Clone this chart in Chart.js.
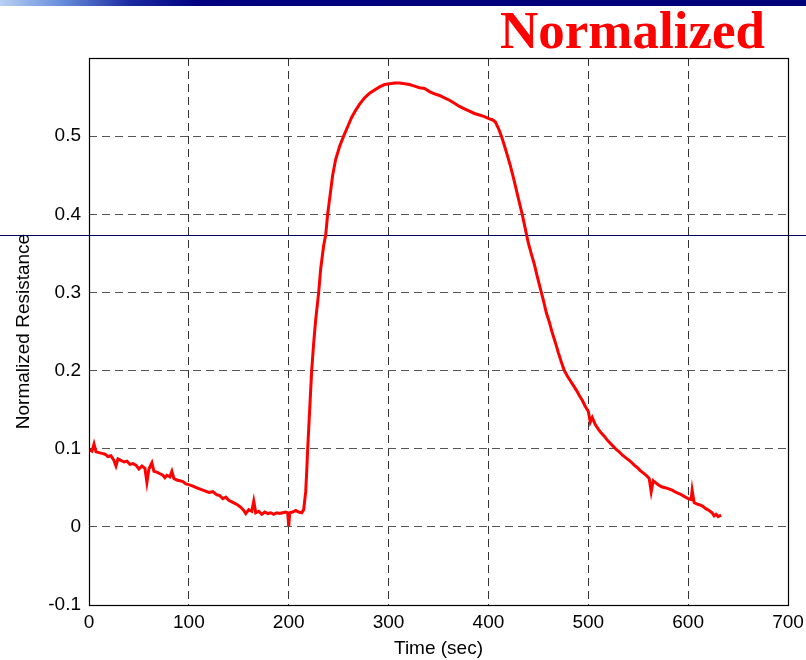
<!DOCTYPE html>
<html>
<head>
<meta charset="utf-8">
<script src="https://cdn.jsdelivr.net/npm/chart.js@4.4.1/dist/chart.umd.min.js"></script>
<style>
  html, body { margin: 0; padding: 0; background: #fff; }
  #wrap { position: relative; width: 806px; height: 660px; overflow: hidden; }
  #bar { position: absolute; left: 0; top: 0; width: 806px; height: 6px;
         background: linear-gradient(to right, #b8d0f4 0px, #6a90dc 60px, #1a2aa0 130px, #000080 200px, #000078 806px); }
  #ttl { position: absolute; left: 500px; top: 0px; font-family: "Liberation Serif", "Times New Roman", serif;
         font-weight: bold; font-size: 53px; line-height: 60px; color: #ff0000; white-space: nowrap; }
  canvas { position: absolute; left: 0; top: 0; }
</style>
</head>
<body>
<div id="wrap">
  <canvas id="c" width="806" height="660"></canvas>
  <div id="bar"></div>
  <div id="ttl">Normalized</div>
</div>
<script>
// ---- data ----
const timeSec = [
  0,3,5,7,10,13,16,19,22,25,27,29,32,35,38,41,44,47,50,53,56,58,60,63,65,68,71,74,76,78,81,83,85,88,91,94,97,100,
  104,108,112,116,120,124,128,131,134,137,140,143,146,149,152,155,157,160,163,165,167,170,173,176,179,182,185,188,
  191,194,197,199,200,201,204,207,210,213,215,
  217,218,219,221,223,225,227,230,232,235,237,239,241,244,247,251,255,259,263,267,271,276,281,286,291,296,301,306,311,
  316,321,326,331,336,341,346,351,356,361,366,371,376,381,386,391,396,401,404,407,410,413,416,419,422,425,428,431,
  434,437,440,443,446,449,452,455,458,461,464,467,470,473,476,479,482,485,488,491,494,497,500,502,504,507,510,513,
  516,519,522,525,528,531,534,537,540,543,546,549,552,555,558,561,563,565,568,571,574,577,580,584,588,592,596,600,
  603,604,606,609,612,615,618,621,624,626,628,630,633
];
const normResistance = [
  0.099,0.097,0.106,0.096,0.095,0.094,0.093,0.090,0.091,0.085,0.078,0.087,0.085,0.083,0.084,0.080,0.081,0.079,0.074,0.078,0.075,0.057,0.074,0.082,0.071,0.070,0.068,0.066,0.063,0.066,0.064,0.071,0.062,0.060,0.059,0.058,0.055,0.054,
  0.052,0.050,0.048,0.046,0.044,0.045,0.041,0.040,0.036,0.038,0.034,0.032,0.030,0.028,0.025,0.021,0.017,0.022,0.020,0.033,0.018,0.020,0.016,0.019,0.017,0.018,0.016,0.018,
  0.017,0.018,0.019,0.018,0.001,0.018,0.019,0.021,0.019,0.018,0.022,
  0.045,0.070,0.100,0.150,0.200,0.235,0.265,0.300,0.330,0.360,0.373,0.400,0.420,0.450,0.470,0.487,0.500,0.512,0.524,0.533,0.541,0.549,0.555,0.559,0.563,0.566,0.567,0.568,0.568,
  0.567,0.566,0.564,0.562,0.561,0.557,0.554,0.552,0.549,0.546,0.542,0.538,0.535,0.532,0.529,0.527,0.525,0.522,0.521,0.518,0.510,0.500,0.488,0.475,0.462,0.447,0.431,0.415,
  0.399,0.381,0.363,0.349,0.336,0.320,0.305,0.290,0.274,0.262,0.248,0.236,0.223,0.211,0.200,0.193,0.187,0.181,0.175,0.168,0.162,0.154,0.148,0.134,0.140,0.131,0.125,0.120,
  0.116,0.111,0.107,0.103,0.099,0.096,0.092,0.089,0.086,0.083,0.079,0.076,0.072,0.069,0.066,0.062,0.045,0.059,0.056,0.053,0.051,0.050,0.049,0.047,0.044,0.042,0.039,0.036,
  0.035,0.047,0.031,0.029,0.028,0.026,0.023,0.021,0.018,0.014,0.016,0.013,0.015
];
const xTickLabels = ['0','100','200','300','400','500','600','700'];
const yTickLabels = ['-0.1','0','0.1','0.2','0.3','0.4','0.5',''];
const xTitle = 'Time (sec)';
const yTitle = 'Normalized Resistance';

const points = timeSec.map((t, i) => ({ x: t, y: normResistance[i] }));

const FONT = '"Liberation Sans", Arial, sans-serif';

const decor = {
  id: 'decor',
  beforeDatasetsDraw(chart) {
    const ctx = chart.ctx;
    const y = chart.scales.y.getPixelForValue(0.374);
    ctx.save();
    ctx.strokeStyle = '#000060';
    ctx.lineWidth = 1;
    ctx.beginPath();
    ctx.moveTo(0, Math.round(y) + 0.5);
    ctx.lineTo(chart.width, Math.round(y) + 0.5);
    ctx.stroke();
    ctx.restore();
  },
  afterDatasetsDraw(chart) {
    const { left, right, top, bottom } = chart.chartArea;
    const ctx = chart.ctx;
    ctx.save();
    ctx.strokeStyle = '#000';
    ctx.lineWidth = 1.2;
    ctx.strokeRect(Math.round(left) + 0.5, Math.round(top) + 0.5, Math.round(right - left), Math.round(bottom - top));
    ctx.restore();
  }
};

new Chart(document.getElementById('c'), {
  type: 'line',
  data: {
    datasets: [{
      data: points,
      borderColor: '#ff0000',
      borderWidth: 3,
      pointRadius: 0,
      tension: 0,
      fill: false
    }]
  },
  options: {
    responsive: false,
    animation: false,
    layout: { padding: { left: 0, right: 18, top: 58, bottom: 0 } },
    plugins: { legend: { display: false }, tooltip: { enabled: false } },
    scales: {
      x: {
        type: 'linear',
        min: 0, max: 700,
        afterFit(s) { s.height = 55; s.paddingLeft = 0; s.paddingRight = 0; },
        ticks: {
          stepSize: 100, padding: 6, color: '#000',
          font: { family: FONT, size: 19 },
          maxRotation: 0,
          callback: (v, i) => xTickLabels[i]
        },
        grid: {
          drawTicks: false,
          color: (c) => (c.tick && (c.tick.value === 0 || c.tick.value === 700)) ? 'rgba(0,0,0,0)' : '#333',
          lineWidth: 1
        },
        border: { display: false, dash: [8, 5] },
        title: { display: true, text: xTitle, color: '#000', font: { family: FONT, size: 19 }, padding: { top: 0, bottom: 0 } }
      },
      y: {
        min: -0.1, max: 0.6,
        afterFit(s) { s.width = 89; s.paddingTop = 0; s.paddingBottom = 0; },
        ticks: {
          stepSize: 0.1, padding: 8, color: '#000',
          font: { family: FONT, size: 19 },
          callback: (v, i) => yTickLabels[i]
        },
        grid: {
          drawTicks: false,
          color: (c) => (c.tick && (Math.abs(c.tick.value + 0.1) < 1e-6 || Math.abs(c.tick.value - 0.6) < 1e-6)) ? 'rgba(0,0,0,0)' : '#555',
          lineWidth: 1
        },
        border: { display: false, dash: [8, 5] },
        title: { display: true, text: yTitle, color: '#000', font: { family: FONT, size: 19 }, padding: { top: 12, bottom: 0 } }
      }
    }
  },
  plugins: [decor]
});
</script>
</body>
</html>
